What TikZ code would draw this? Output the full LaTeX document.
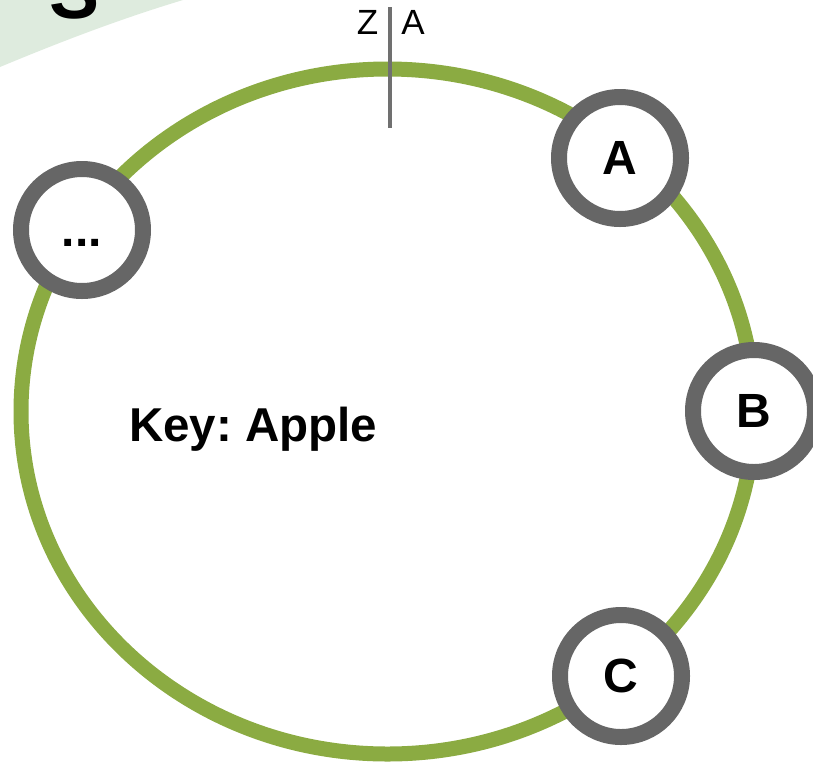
\documentclass[tikz,border=0pt]{standalone}
\usepackage{fontspec}
\setmainfont{Liberation Sans}
\definecolor{ringgreen}{RGB}{139,171,66}
\definecolor{nodegray}{RGB}{102,102,102}
\definecolor{linegray}{RGB}{112,112,112}
\definecolor{paleGreen}{RGB}{222,235,222}
\tikzset{
  server/.style={circle, draw=nodegray, line width=16pt, fill=white,
    minimum size=122pt, inner sep=0pt,
    font=\fontsize{48}{48}\selectfont\bfseries},
  marklabel/.style={inner sep=0pt, font=\fontsize{35}{35}\selectfont},
}
\begin{document}
\frenchspacing
\begin{tikzpicture}[x=1pt, y=-1pt]
\useasboundingbox (0,0) rectangle (813,764);
% pale background shape at top-left
\fill[paleGreen] (0,0) -- (0,67) .. controls (60,42) and (120,19) .. (183,0) -- cycle;
\begin{scope}
  \clip (0,0) rectangle (200,19);
  \node[anchor=base west, inner sep=0pt, font=\fontsize{75}{75}\selectfont\bfseries] (title) at (49,18) {S};
\end{scope}
% ring
\draw[ringgreen, line width=15pt] (387.5,411.5) ellipse [x radius=366.5, y radius=342.5];
% Z|A marker
\coordinate (mtop) at (390,7);
\coordinate (mbot) at (390,128);
\draw[linegray, line width=4pt] (mtop) -- (mbot);
\node[marklabel] (zl) at (367.5,22.5) {Z};
\node[marklabel] (al) at (413,22.5) {A};
% servers
\node[server] (nA) at (620,158) {A};
\node[server] (nB) at (754,411) {B};
\node[server] (nC) at (621,676) {C};
\node[server] (nD) at (82,230) {};
\node[inner sep=0pt, font=\fontsize{48}{48}\selectfont\bfseries] (dots) at (82,243) {...};
% key
\node[anchor=base west, inner sep=0pt, font=\fontsize{47.5}{47.5}\selectfont\bfseries] (key) at (129,441) {Key: Apple};
\end{tikzpicture}
\end{document}
